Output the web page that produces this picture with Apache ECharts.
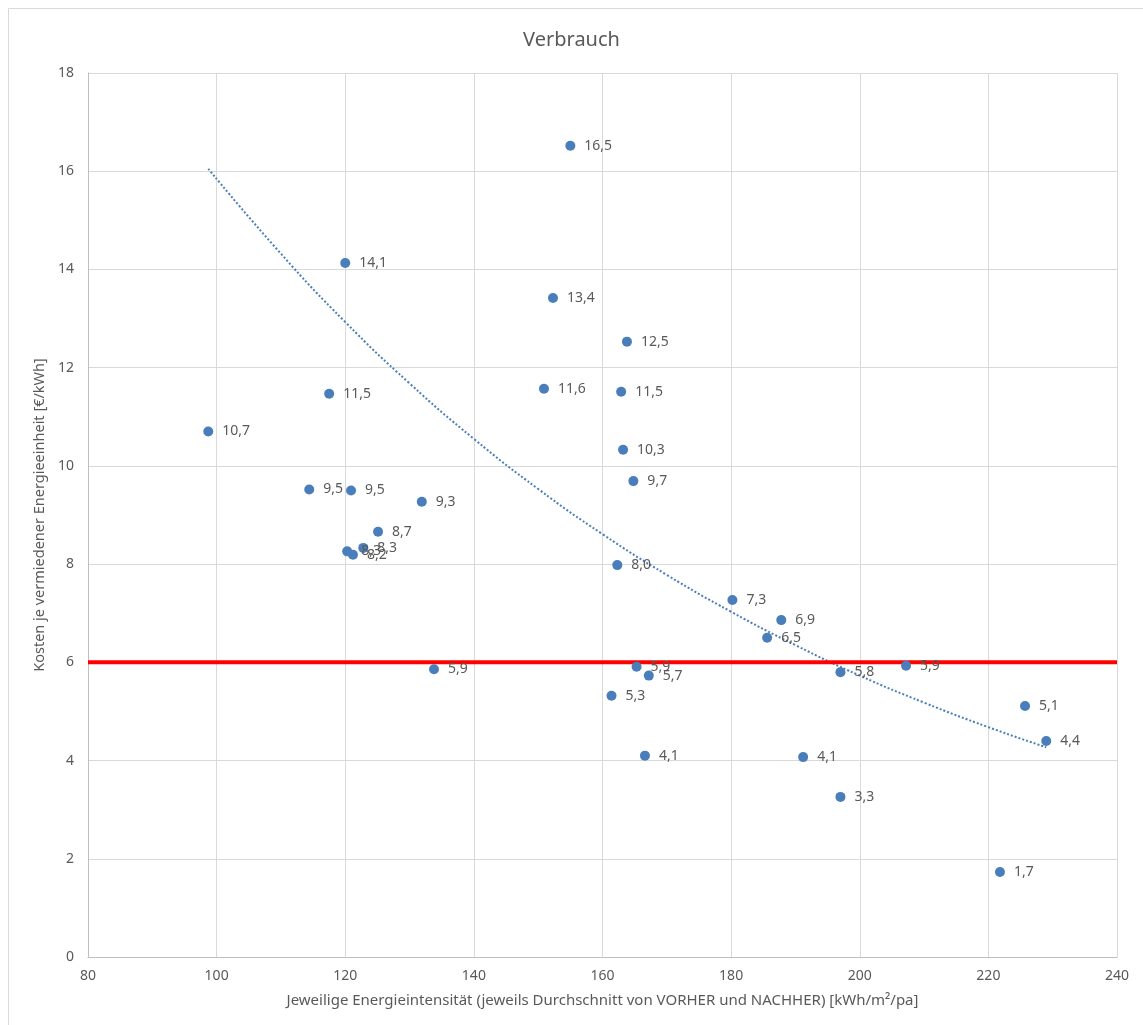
<!DOCTYPE html>
<html>
<head>
<meta charset="utf-8">
<title>Verbrauch</title>
<script src="https://cdn.jsdelivr.net/npm/echarts@6/dist/echarts.min.js"></script>
<style>
  html, body { margin: 0; padding: 0; background: #fff; }
  #chart { width: 1143px; height: 1025px; }
</style>
</head>
<body>
<div id="chart"></div>
<script>
// Energieintensität [kWh/m²/pa]
const intensity = [98.7, 114.4, 117.5, 120.0, 120.9, 120.3, 121.2, 122.8, 125.1, 131.9, 133.8,
  150.9, 152.3, 155.0, 161.4, 162.3, 162.9, 163.2, 163.8, 164.8, 165.3, 166.6, 167.2,
  180.2, 185.6, 187.8, 191.2, 197.0, 197.0, 207.2, 221.8, 225.7, 229.0];
// Kosten je vermiedener Energieeinheit [€/kWh]
const cost = [10.7, 9.52, 11.47, 14.13, 9.5, 8.26, 8.19, 8.33, 8.66, 9.27, 5.86,
  11.57, 13.42, 16.52, 5.32, 7.98, 11.51, 10.33, 12.53, 9.69, 5.91, 4.10, 5.73,
  7.27, 6.50, 6.86, 4.07, 5.80, 3.26, 5.93, 1.73, 5.11, 4.40];

// Trendlinie
const trendX = [98.7, 110, 120, 130, 140, 150, 160, 170, 180, 190, 200, 210, 220, 229];
const trendY = [16.05, 14.32, 12.93, 11.68, 10.55, 9.53, 8.61, 7.78, 7.03, 6.35, 5.73, 5.18, 4.68, 4.27];

// Zielwert
const targetCost = 6;
const xRange = [80, 240];

const fontFamily = "'Noto Sans', 'Liberation Sans', sans-serif";
const textColor = '#595959';

const points = intensity.map((x, i) => [x, cost[i]]);
const trend = trendX.map((x, i) => [x, trendY[i]]);
const target = xRange.map(x => [x, targetCost]);

const chart = echarts.init(document.getElementById('chart'));
chart.setOption({
  backgroundColor: '#fff',
  animation: false,
  title: {
    text: 'Verbrauch',
    left: 'center',
    top: 25,
    textStyle: { fontFamily: fontFamily, fontSize: 20, fontWeight: 'normal', color: textColor }
  },
  // Rahmen (nur oben und links sichtbar)
  graphic: [{
    type: 'polyline',
    shape: { points: [[8.5, 1025], [8.5, 8.5], [1143, 8.5]] },
    style: { fill: 'none', stroke: '#d9d9d9', lineWidth: 1 },
    silent: true
  }],
  grid: { left: 88, right: 26, top: 73, bottom: 68 },
  xAxis: {
    type: 'value',
    min: xRange[0],
    max: xRange[1],
    interval: 20,
    name: 'Jeweilige Energieintensität (jeweils Durchschnitt von VORHER und NACHHER) [kWh/m²/pa]',
    nameLocation: 'middle',
    nameGap: 36,
    nameTextStyle: { fontFamily: fontFamily, fontSize: 15, color: textColor },
    axisLine: { show: true, lineStyle: { color: '#bfbfbf' } },
    axisTick: { show: false },
    axisLabel: { fontFamily: fontFamily, fontSize: 14, color: textColor, margin: 12 },
    splitLine: { show: true, lineStyle: { color: '#d9d9d9' } }
  },
  yAxis: {
    type: 'value',
    min: 0,
    max: 18,
    interval: 2,
    name: 'Kosten je vermiedener Energieeinheit [€/kWh]',
    nameLocation: 'middle',
    nameGap: 37,
    nameTextStyle: { fontFamily: fontFamily, fontSize: 14.5, color: textColor },
    axisLine: { show: true, lineStyle: { color: '#bfbfbf' } },
    axisTick: { show: false },
    axisLabel: { fontFamily: fontFamily, fontSize: 14, color: textColor, margin: 14 },
    splitLine: { show: true, lineStyle: { color: '#d9d9d9' } }
  },
  series: [
    {
      name: 'Trend',
      type: 'line',
      data: trend,
      smooth: true,
      showSymbol: false,
      lineStyle: { color: '#4a7ebb', width: 2, type: [2, 2] },
      z: 2
    },
    {
      name: 'Ziel',
      type: 'line',
      data: target,
      showSymbol: false,
      lineStyle: { color: '#ff0000', width: 4 },
      z: 3
    },
    {
      name: 'Verbrauch',
      type: 'scatter',
      data: points,
      symbolSize: 10,
      itemStyle: { color: '#4a7ebb', opacity: 1 },
      label: {
        show: true,
        position: 'right',
        distance: 9,
        fontFamily: fontFamily,
        fontSize: 14,
        color: textColor,
        formatter: p => p.value[1].toFixed(1).replace('.', ',')
      },
      labelLayout: { hideOverlap: false },
      z: 4
    }
  ]
});
</script>
</body>
</html>
